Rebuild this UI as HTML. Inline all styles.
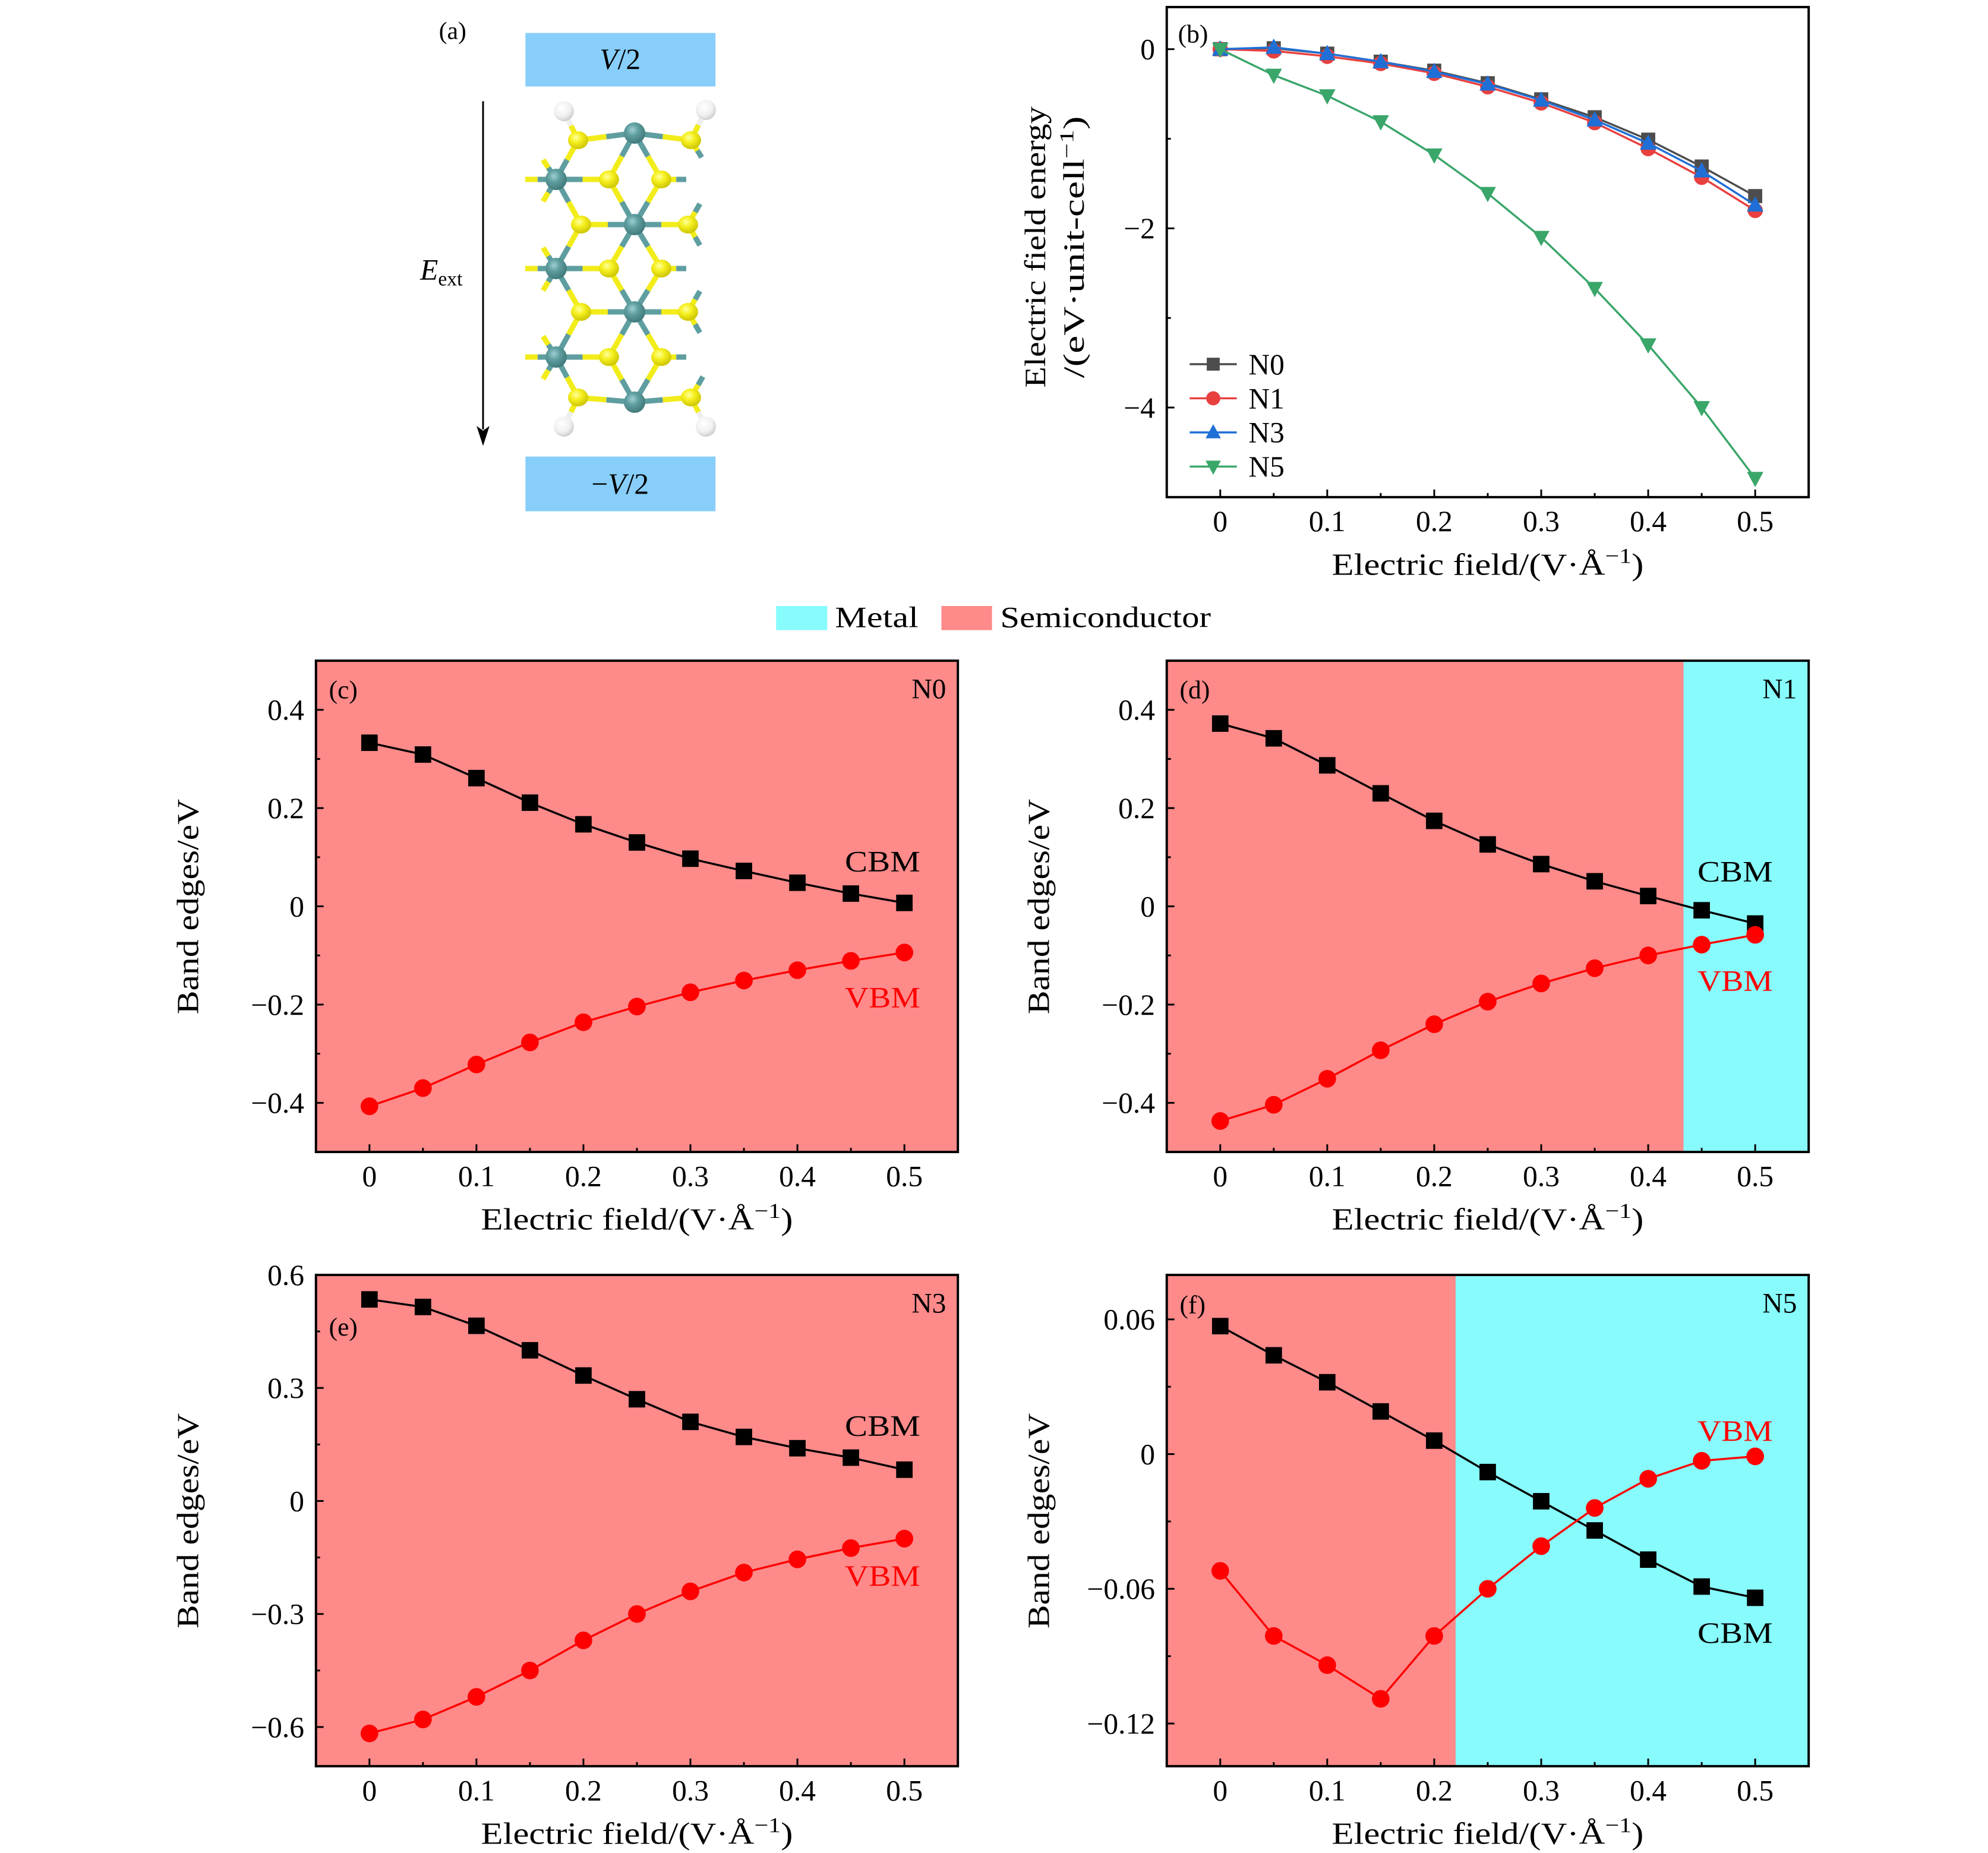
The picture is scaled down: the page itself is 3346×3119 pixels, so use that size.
<!DOCTYPE html>
<html><head><meta charset="utf-8"><style>
html,body{margin:0;padding:0;background:#fff}
svg{display:block;font-family:"Liberation Serif",serif}
</style></head><body>
<svg id="fig" width="3346" height="3119" viewBox="0 0 3346 3119" xmlns="http://www.w3.org/2000/svg">
<defs>
<radialGradient id="gS" cx="0.4" cy="0.35" r="0.7"><stop offset="0" stop-color="#ffffa0"/><stop offset="0.4" stop-color="#f6f020"/><stop offset="1" stop-color="#c8c000"/></radialGradient>
<radialGradient id="gM" cx="0.4" cy="0.35" r="0.7"><stop offset="0" stop-color="#9fd0d2"/><stop offset="0.4" stop-color="#5f9ea0"/><stop offset="1" stop-color="#3d7577"/></radialGradient>
<radialGradient id="gH" cx="0.4" cy="0.35" r="0.7"><stop offset="0" stop-color="#ffffff"/><stop offset="0.6" stop-color="#f0f0f0"/><stop offset="1" stop-color="#c8c8c8"/></radialGradient>
</defs>
<g transform="scale(0.9903)">
<g id="panelA">
<text x="746" y="66" font-size="42">(a)</text>
<rect x="893" y="56" width="323" height="91" fill="#87cefa"/>
<text x="1054" y="117" font-size="50" text-anchor="middle"><tspan font-style="italic">V</tspan>/2</text>
<rect x="893" y="776" width="323" height="93" fill="#87cefa"/>
<text x="1054" y="839" font-size="50" text-anchor="middle">−<tspan font-style="italic">V</tspan>/2</text>
<line x1="821" y1="172" x2="821" y2="730" stroke="#000" stroke-width="3"/>
<polygon points="821,758 810,724 821,732 832,724" fill="#000"/>
<text x="714" y="475" font-size="50"><tspan font-style="italic">E</tspan><tspan font-size="34" dy="10">ext</tspan></text>
</g>
<g id="charts"></g>
<g>
<rect x="1319" y="1030" width="87" height="41" fill="#88fcfc"/>
<text x="1419" y="1066" font-size="50" textLength="142" lengthAdjust="spacingAndGlyphs">Metal</text>
<rect x="1600" y="1030" width="86" height="41" fill="#fe8a8a"/>
<text x="1700" y="1066" font-size="50" textLength="358" lengthAdjust="spacingAndGlyphs">Semiconductor</text>
</g>
</g>
<g id="mol"></g>
</svg>
<script>
const NS="http://www.w3.org/2000/svg";
function mk(tag,attrs,parent,txt){const e=document.createElementNS(NS,tag);for(const k in attrs)e.setAttribute(k,attrs[k]);if(txt!==undefined)e.textContent=txt;parent.appendChild(e);return e;}

// ---------- molecule ----------
const mol=document.getElementById('mol');
const yr=[224,302,378,452,525,601,677];
const atoms={
 H1:['H',949,187],H2:['H',1188,185],H3:['H',949,718],H4:['H',1188,718],
 M1:['M',1068,yr[0]],M2:['M',936,yr[1]],M3:['M',1068,yr[2]],M4:['M',936,yr[3]],M5:['M',1068,yr[4]],M6:['M',936,yr[5]],M7:['M',1068,yr[6]],
 S1:['S',973,236],S2:['S',1163,236],S3:['S',1025,yr[1]],S4:['S',1113,yr[1]],S5:['S',978,yr[2]],S6:['S',1158,yr[2]],
 S7:['S',1025,yr[3]],S8:['S',1113,yr[3]],S9:['S',978,yr[4]],S10:['S',1158,yr[4]],S11:['S',1025,yr[5]],S12:['S',1113,yr[5]],S13:['S',973,669],S14:['S',1163,669]
};
const col={S:'#f2ec1a',M:'#5f9ea0',H:'#eeeeee'};
const bonds=[['M1','S1'],['M1','S2'],['M1','S3'],['M1','S4'],['H1','S1'],['H2','S2'],['S1','M2'],['M2','S3'],['M2','S5'],['S3','M3'],['S4','M3'],
['M3','S5'],['M3','S6'],['M3','S7'],['M3','S8'],['S5','M4'],['M4','S7'],['M4','S9'],['S7','M5'],['S8','M5'],['M5','S9'],['M5','S10'],['M5','S11'],['M5','S12'],
['S9','M6'],['M6','S11'],['M6','S13'],['S11','M7'],['S12','M7'],['M7','S13'],['M7','S14'],['H3','S13'],['H4','S14']];
const stubs=[['M2',-52,0,'S'],['M2',-22,-33,'S'],['M2',-22,37,'S'],['M4',-52,0,'S'],['M4',-22,-35,'S'],['M4',-22,37,'S'],['M6',-52,0,'S'],['M6',-22,-35,'S'],['M6',-22,37,'S'],
['S4',42,0,'M'],['S8',42,0,'M'],['S12',42,0,'M'],['S2',18,29,'M'],['S6',20,-35,'M'],['S6',20,35,'M'],['S10',20,-35,'M'],['S10',20,35,'M'],['S14',20,-35,'M']];
bonds.forEach(b=>{const a=atoms[b[0]],c=atoms[b[1]];const mx=(a[1]+c[1])/2,my=(a[2]+c[2])/2;
 mk('line',{x1:a[1],y1:a[2],x2:mx,y2:my,stroke:col[a[0]],'stroke-width':9},mol);
 mk('line',{x1:mx,y1:my,x2:c[1],y2:c[2],stroke:col[c[0]],'stroke-width':9},mol);});
stubs.forEach(s=>{const a=atoms[s[0]];const ex=a[1]+s[1],ey=a[2]+s[2];const mx=a[1]+s[1]*0.6,my=a[2]+s[2]*0.6;
 mk('line',{x1:a[1],y1:a[2],x2:mx,y2:my,stroke:col[a[0]],'stroke-width':9},mol);
 mk('line',{x1:mx,y1:my,x2:ex,y2:ey,stroke:col[s[3]],'stroke-width':9},mol);});
for(const k in atoms){const a=atoms[k];const r=a[0]==='M'?18:17;
 mk('ellipse',{cx:a[1],cy:a[2],rx:r,ry:a[0]==='S'?r*0.88:r,fill:'url(#g'+a[0]+')'},mol);}

// ---------- chart data ----------
const fields=[0,0.05,0.1,0.15,0.2,0.25,0.3,0.35,0.4,0.45,0.5];
const xTicks=[0,0.1,0.2,0.3,0.4,0.5];
const xTickLabels=['0','0.1','0.2','0.3','0.4','0.5'];
// panel b
const energyN0=[0,0.01,-0.05,-0.14,-0.24,-0.38,-0.56,-0.76,-1.01,-1.31,-1.64];
const energyN1=[0,-0.02,-0.08,-0.16,-0.27,-0.42,-0.60,-0.82,-1.11,-1.43,-1.80];
const energyN3=[0,0.02,-0.05,-0.14,-0.25,-0.39,-0.57,-0.79,-1.05,-1.36,-1.74];
const energyN5=[0,-0.29,-0.52,-0.81,-1.18,-1.61,-2.10,-2.67,-3.30,-4.00,-4.79];
const bTicks=[0,-2,-4];
const bTickLabels=['0','−2','−4'];
// panel c (N0)
const cbmN0=[0.333,0.309,0.261,0.211,0.167,0.130,0.097,0.072,0.048,0.026,0.007];
const vbmN0=[-0.407,-0.370,-0.322,-0.277,-0.236,-0.204,-0.175,-0.151,-0.130,-0.111,-0.094];
// panel d (N1)
const cbmN1=[0.372,0.342,0.287,0.230,0.174,0.126,0.086,0.051,0.021,-0.008,-0.035];
const vbmN1=[-0.437,-0.404,-0.351,-0.293,-0.240,-0.194,-0.157,-0.126,-0.100,-0.078,-0.058];
// panel e (N3)
const cbmN3=[0.535,0.515,0.465,0.400,0.333,0.270,0.210,0.170,0.140,0.115,0.083];
const vbmN3=[-0.617,-0.580,-0.520,-0.450,-0.370,-0.300,-0.240,-0.190,-0.155,-0.125,-0.100];
// panel f (N5)
const cbmN5=[0.057,0.044,0.032,0.019,0.006,-0.008,-0.021,-0.034,-0.047,-0.059,-0.064];
const vbmN5=[-0.052,-0.081,-0.094,-0.109,-0.081,-0.060,-0.041,-0.024,-0.011,-0.003,-0.001];
const cdTicks=[0.4,0.2,0,-0.2,-0.4];
const cdTickLabels=['0.4','0.2','0','−0.2','−0.4'];
const eTicks=[0.6,0.3,0,-0.3,-0.6];
const eTickLabels=['0.6','0.3','0','−0.3','−0.6'];
const fTicks=[0.06,0,-0.06,-0.12];
const fTickLabels=['0.06','0','−0.06','−0.12'];
const metalStartN1=0.433;
const metalStartN5=0.22;

const charts=document.getElementById('charts');
function panel(o){
 const g=mk('g',{},charts);
 
 
 const L=o.x0,R=o.x1,T=o.y0,B=o.y1;
 const X=v=>L+(v+0.05)/0.6*(R-L);
 const Y=v=>T+(o.ymax-v)/(o.ymax-o.ymin)*(B-T);
 if(o.bg){const r=mk('rect',{x:L,y:T,width:R-L,height:B-T,fill:'#fe8a8a'},g);
  
  }
 if(o.metal!==undefined){const mx=X(o.metal);const r=mk('rect',{x:mx,y:T,width:R-mx,height:B-T,fill:'#88fcfc'},g);
  
  }
 xTicks.forEach((v,i)=>{const x=X(v);mk('line',{x1:x,y1:B,x2:x,y2:B-13,stroke:'#000','stroke-width':3},g);
  const t=mk('text',{x:x,y:B+58,'font-size':50,'text-anchor':'middle'},g,xTickLabels[i]);
  
  
  const xm=X(v+0.05);if(v<0.5)mk('line',{x1:xm,y1:B,x2:xm,y2:B-7,stroke:'#000','stroke-width':3},g);});
 o.yt.forEach((v,i)=>{const y=Y(v);mk('line',{x1:L,y1:y,x2:L+13,y2:y,stroke:'#000','stroke-width':3},g);
  const t=mk('text',{x:L-20,y:y+17,'font-size':50,'text-anchor':'end'},g,o.ytl[i]);
  
  });
 (o.ym||[]).forEach(v=>{const y=Y(v);mk('line',{x1:L,y1:y,x2:L+7,y2:y,stroke:'#000','stroke-width':3},g);});
 o.series.forEach(s=>{
  const pts=fields.map((f,i)=>X(f)+','+Y(s.v[i])).join(' ');
  const pl=mk('polyline',{points:pts,fill:'none',stroke:s.c,'stroke-width':3.5},g);
  
  
  fields.forEach((f,i)=>{const x=X(f),y=Y(s.v[i]);let m;const r=s.r||14;
   if(s.m==='sq')m=mk('rect',{x:x-r,y:y-r,width:2*r,height:2*r,fill:s.c},g);
   else if(s.m==='ci')m=mk('circle',{cx:x,cy:y,r:r+1,fill:s.c},g);
   else if(s.m==='tu')m=mk('polygon',{points:`${x},${y-r-3} ${x-r-2},${y+r-1} ${x+r+2},${y+r-1}`,fill:s.c},g);
   else m=mk('polygon',{points:`${x},${y+r+3} ${x-r-2},${y-r+1} ${x+r+2},${y-r+1}`,fill:s.c},g);
   
   });
 });
 mk('rect',{x:L,y:T,width:R-L,height:B-T,fill:'none',stroke:'#000','stroke-width':4},g);
 const xt=mk('text',{x:(L+R)/2,y:B+132,'font-size':52,'text-anchor':'middle',textLength:530,lengthAdjust:'spacingAndGlyphs'},g);
 
 
 xt.innerHTML='Electric field/(V·Å<tspan font-size="36" dy="-20">−1</tspan><tspan dy="20">)</tspan>';
 (o.labels||[]).forEach(l=>{const a={x:l[1],y:l[2],'font-size':l[4]||44,'text-anchor':l[3]||'start',fill:l[5]||'#000'};
  if(l[7])a.textLength=l[7],a.lengthAdjust='spacingAndGlyphs';
  const t=mk('text',a,g,l[0]);
  
  });
 return {g,L,R,T,B};
}

const pb=panel({name:'panel-b-chart',x0:1983,x1:3074,y0:12,y1:845,ymin:-5,ymax:0.47,yt:bTicks,ytl:bTickLabels,ym:[-1,-3],
 series:[{v:energyN0,c:'#4d4d4d',m:'sq',n:'n0',r:12},{v:energyN1,c:'#e8403f',m:'ci',n:'n1',r:12},{v:energyN3,c:'#1f6fd6',m:'tu',n:'n3',r:12},{v:energyN5,c:'#3aa66a',m:'td',n:'n5',r:12}],
 labels:[['(b)',2002,72,'start',44,'#000','panel-b-label']]});
(function(){const g=pb.g;
 const yt=mk('text',{x:0,y:0,'font-size':50,'text-anchor':'middle',textLength:478,lengthAdjust:'spacingAndGlyphs',transform:'translate(1776,420) rotate(-90)'},g,'Electric field energy');
 
 
 const yt2=mk('text',{x:0,y:0,'font-size':50,'text-anchor':'middle',textLength:445,lengthAdjust:'spacingAndGlyphs',transform:'translate(1842,420) rotate(-90)'},g);
 yt2.innerHTML='/(eV·unit-cell<tspan font-size="34" dy="-18">−1</tspan><tspan dy="18">)</tspan>';
 
 
 const leg=[['N0','#4d4d4d','sq'],['N1','#e8403f','ci'],['N3','#1f6fd6','tu'],['N5','#3aa66a','td']];
 leg.forEach((l,i)=>{const y=619+i*58;const lg=mk('g',{},g);
  
  
  mk('line',{x1:2022,y1:y,x2:2102,y2:y,stroke:l[1],'stroke-width':3.5},lg);
  const x=2062,r=11;
  if(l[2]==='sq')mk('rect',{x:x-r,y:y-r,width:2*r,height:2*r,fill:l[1]},lg);
  else if(l[2]==='ci')mk('circle',{cx:x,cy:y,r:r+1,fill:l[1]},lg);
  else if(l[2]==='tu')mk('polygon',{points:`${x},${y-r-3} ${x-r-2},${y+r-1} ${x+r+2},${y+r-1}`,fill:l[1]},lg);
  else mk('polygon',{points:`${x},${y+r+3} ${x-r-2},${y-r+1} ${x+r+2},${y-r+1}`,fill:l[1]},lg);
  mk('text',{x:2122,y:y+17,'font-size':50},lg,l[0]);});
})();
function bandPanel(name,x0,y0,ymin,ymax,yt,ytl,ym,cbm,vbm,metal,plabel,nlabel,cbmPos,vbmPos,plabY){
 const p=panel({name,x0,x1:x0+1091,y0,y1:y0+835,ymin,ymax,yt,ytl,ym,bg:true,metal,
  series:[{v:cbm,c:'#000',m:'sq',n:'cbm',r:14},{v:vbm,c:'#ff0000',m:'ci',n:'vbm',r:14}],
  labels:[[plabel,x0+22,plabY,'start',44,'#000','panel-label'],[nlabel,x0+1071,y0+64,'end',48,'#000','structure-label'],
   ['CBM',cbmPos[0],cbmPos[1],'middle',50,'#000','cbm-label',128],['VBM',vbmPos[0],vbmPos[1],'middle',50,'#ff0000','vbm-label',128]]});
 const t=mk('text',{x:0,y:0,'font-size':52,'text-anchor':'middle',textLength:366,lengthAdjust:'spacingAndGlyphs',transform:`translate(${x0-200},${y0+418}) rotate(-90)`},p.g,'Band edges/eV');
 
 
}
bandPanel('panel-c-chart',537,1123,-0.5,0.5,cdTicks,cdTickLabels,[0.3,0.1,-0.1,-0.3],cbmN0,vbmN0,undefined,'(c)','N0',[1500,1481],[1500,1712],1187);
bandPanel('panel-d-chart',1983,1123,-0.5,0.5,cdTicks,cdTickLabels,[0.3,0.1,-0.1,-0.3],cbmN1,vbmN1,metalStartN1,'(d)','N1',[2949,1498],[2949,1684],1187);
bandPanel('panel-e-chart',537,2167,-0.704,0.6,eTicks,eTickLabels,[0.45,0.15,-0.15,-0.45],cbmN3,vbmN3,undefined,'(e)','N3',[1500,2440],[1500,2695],2270);
bandPanel('panel-f-chart',1983,2167,-0.139,0.0798,fTicks,fTickLabels,[0.03,-0.03,-0.09],cbmN5,vbmN5,metalStartN5,'(f)','N5',[2949,2792],[2949,2449],2232);
</script>
</body></html>
